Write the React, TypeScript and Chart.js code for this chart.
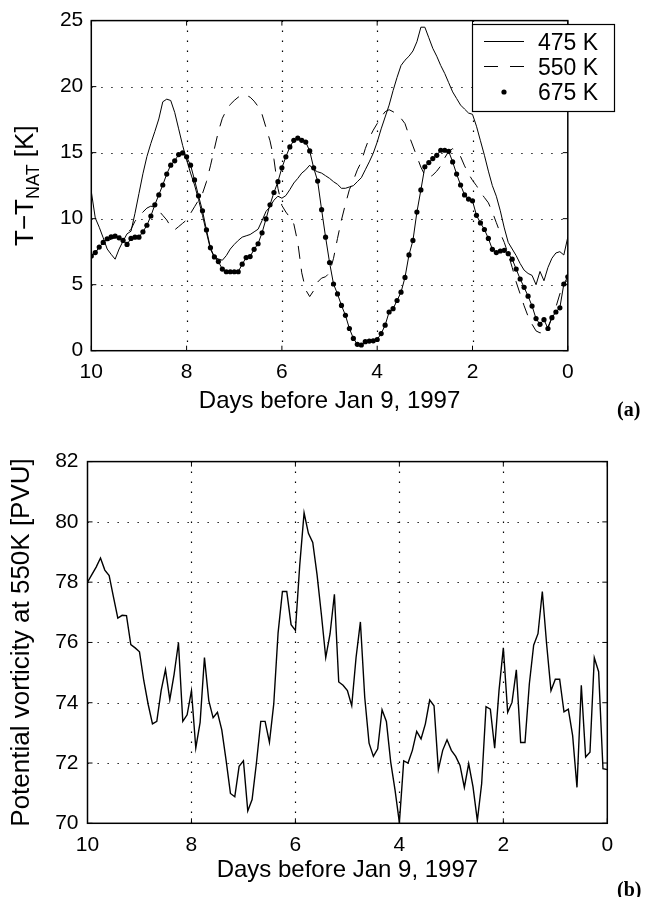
import React, { useEffect, useRef } from 'react';
import { Chart, registerables } from 'chart.js';

Chart.register(...registerables);

const FONT = '"Liberation Sans", Arial, Helvetica, sans-serif';
const SERIF = '"Liberation Serif", "Times New Roman", Times, serif';

// ---------- data ----------
const seriesNames = ['475 K', '550 K', '675 K'];
const xTitle = 'Days before Jan 9, 1997';
const topYTitleMain = 'T\u2212T';
const topYTitleSub = 'NAT';
const topYTitleTail = ' [K]';
const botYTitle = 'Potential vorticity at 550K [PVU]';
const panelLabels = ['(a)', '(b)'];

// samples every 2 hours, from 10 days before to 0 days before
const samplesPerDay = 12;

const t475 = [
  12.05, 10.05, 9.35, 8.55, 7.7, 7.3, 6.93, 7.7, 8.3, 8.85,
  9.05, 10.4, 11.9, 13.4, 14.7, 15.7, 16.6, 17.55, 18.85, 19.05,
  18.95, 18.05, 16.8, 15.55, 14.45, 13.45, 12.55, 11.45, 10.25, 8.95,
  7.7, 7.05, 6.95, 6.85, 7.2, 7.7, 8.05, 8.35, 8.6, 8.7,
  8.8, 9.0, 9.2, 9.85, 10.55, 10.9, 11.4, 11.7, 11.55, 11.75,
  12.2, 12.7, 13.05, 13.45, 13.7, 14.05, 13.7, 13.55, 13.45, 13.25,
  13.05, 12.8, 12.6, 12.3, 12.3, 12.4, 12.5, 12.8, 13.1, 13.7,
  14.3, 14.95, 15.8, 16.8, 17.7, 18.6, 19.7, 20.7, 21.6, 22.0,
  22.3, 22.7, 23.4, 24.5, 24.5, 23.7, 22.9, 22.3, 21.6, 21.0,
  20.3, 19.6, 19.1, 18.6, 18.3, 18.0, 17.9, 17.0, 15.9, 14.8,
  13.6, 12.5, 11.7, 10.6, 9.3, 8.2, 7.7, 7.2, 6.6, 6.1,
  5.85, 5.7, 5.0, 6.0, 5.3, 6.3, 7.0, 7.4, 7.5, 7.25,
  8.6,
];

const t550 = [
  7.2, 7.45, 7.8, 8.1, 8.3, 8.45, 8.55, 8.65, 8.75, 8.9,
  9.2, 9.8, 10.2, 10.5, 10.8, 10.95, 10.85, 10.6, 10.25, 9.9,
  9.4, 9.15, 9.4, 9.65, 9.9, 10.4, 10.9, 11.4, 11.9, 12.8,
  14.0, 15.3, 16.6, 17.6, 18.2, 18.65, 18.95, 19.2, 19.35, 19.35,
  19.2, 18.9, 18.5, 17.9, 16.9, 15.9, 14.5, 12.3, 11.0, 10.5,
  10.1, 9.6, 8.2, 5.9, 4.6, 4.1, 4.55, 5.2, 5.5, 5.6,
  5.9, 7.0, 8.5, 9.9, 11.1, 12.2, 12.9, 13.7, 14.3, 15.3,
  16.1, 16.7, 17.2, 17.7, 18.1, 18.25, 18.1, 17.9, 17.6, 17.2,
  16.3, 15.5, 14.7, 13.9, 13.3, 13.1, 13.3, 13.6, 14.0, 14.6,
  15.1, 15.3, 15.1, 14.7, 14.0, 13.4, 12.9, 12.5, 12.0, 11.6,
  11.2, 10.5, 9.7, 8.9, 8.2, 7.3, 6.3, 5.2, 4.3, 3.4,
  2.6, 2.0, 1.5, 1.35, 1.4, 1.8, 2.5, 3.3, 4.3, 5.0,
  5.4,
];

const t675 = [
  7.18, 7.43, 7.85, 8.2, 8.48, 8.63, 8.68, 8.55, 8.35, 8.05,
  8.5, 8.6, 8.6, 9.0, 9.5, 10.2, 11.05, 11.8, 12.55, 13.38,
  14.05, 14.38, 14.85, 14.98, 14.68, 14.05, 12.93, 11.73, 10.6, 9.15,
  7.8, 7.1, 6.75, 6.18, 5.98, 5.98, 5.98, 5.98, 6.55, 7.05,
  7.13, 7.68, 8.1, 8.93, 9.98, 11.05, 11.98, 12.8, 13.85, 14.68,
  15.43, 15.93, 16.1, 15.93, 15.8, 15.13, 13.85, 12.85, 10.68, 8.6,
  6.68, 5.05, 4.3, 3.43, 2.68, 1.68, 0.93, 0.48, 0.43, 0.68,
  0.73, 0.75, 0.85, 1.3, 1.93, 2.93, 3.18, 3.8, 4.43, 5.55,
  7.25, 8.35, 10.5, 12.18, 13.93, 14.25, 14.55, 14.8, 15.18, 15.18,
  15.1, 14.3, 13.38, 12.55, 11.8, 11.48, 11.35, 10.25, 9.68, 9.18,
  8.5, 7.68, 7.43, 7.55, 7.6, 7.35, 6.93, 6.18, 5.43, 4.8,
  4.13, 3.38, 2.43, 2.0, 2.35, 1.68, 2.5, 2.93, 3.25, 5.05,
  5.6,
];

const pv550 = [
  78.0, 78.25, 78.5, 78.8, 78.4, 78.22, 77.5, 76.81, 76.9, 76.89,
  75.93, 75.82, 75.69, 74.73, 73.95, 73.3, 73.38, 74.4, 75.1, 74.1,
  74.95, 75.99, 73.38, 73.6, 74.4, 72.5, 73.35, 75.5, 74.07, 73.5,
  73.68, 73.1, 72.09, 70.99, 70.88, 71.89, 72.07, 70.41, 70.79, 72.0,
  73.38, 73.38, 72.69, 73.96, 76.32, 77.69, 77.69, 76.59, 76.4, 78.57,
  80.3, 79.62, 79.32, 78.24, 76.92, 75.5, 76.29, 77.6, 74.69, 74.58,
  74.4, 73.9, 75.5, 76.68, 74.18, 72.66, 72.22, 72.47, 73.77, 73.38,
  72.03, 71.1, 70.02, 72.07, 72.0, 72.42, 73.05, 72.8, 73.3, 74.09,
  73.9, 71.78, 72.42, 72.77, 72.42, 72.22, 71.92, 71.19, 71.98, 71.21,
  70.09, 71.32, 73.87, 73.79, 72.49, 74.4, 75.82, 73.68, 74.01, 75.09,
  72.68, 72.68, 74.62, 75.91, 76.29, 77.69, 75.93, 74.4, 74.78, 74.78,
  73.7, 73.79, 72.91, 71.19, 74.58, 72.2, 72.36, 75.49, 75.03, 71.81,
  71.78,
];

const days = t475.map((_, i) => 10 - i / samplesPerDay);
const toPts = (arr: number[]) => arr.map((v, i) => ({ x: days[i], y: v }));

// ---------- plugins ----------
const matlabAxes = {
  id: 'matlabAxes',
  beforeDatasetsDraw(chart: any) {
    const { ctx, chartArea: a, scales } = chart;
    const x = scales.x;
    const y = scales.y;
    ctx.save();
    ctx.strokeStyle = '#000';
    ctx.lineWidth = 1.2;
    ctx.setLineDash([1.3, 8.7]);
    x.ticks.forEach((t: any) => {
      if (t.value === x.min || t.value === x.max) return;
      const px = Math.round(x.getPixelForValue(t.value)) + 0.5;
      ctx.beginPath();
      ctx.moveTo(px, a.top);
      ctx.lineTo(px, a.bottom);
      ctx.stroke();
    });
    y.ticks.forEach((t: any) => {
      if (t.value === y.min || t.value === y.max) return;
      const py = Math.round(y.getPixelForValue(t.value)) + 0.5;
      ctx.beginPath();
      ctx.moveTo(a.left, py);
      ctx.lineTo(a.right, py);
      ctx.stroke();
    });
    ctx.restore();
  },
  afterDatasetsDraw(chart: any) {
    const { ctx, chartArea: a, scales } = chart;
    const x = scales.x;
    const y = scales.y;
    const tl = 5;
    ctx.save();
    ctx.strokeStyle = '#000';
    ctx.lineWidth = 1.5;
    ctx.setLineDash([]);
    ctx.strokeRect(a.left, a.top, a.right - a.left, a.bottom - a.top);
    ctx.lineWidth = 1;
    x.ticks.forEach((t: any) => {
      const px = x.getPixelForValue(t.value);
      ctx.beginPath();
      ctx.moveTo(px, a.bottom);
      ctx.lineTo(px, a.bottom - tl);
      ctx.moveTo(px, a.top);
      ctx.lineTo(px, a.top + tl);
      ctx.stroke();
    });
    y.ticks.forEach((t: any) => {
      const py = y.getPixelForValue(t.value);
      ctx.beginPath();
      ctx.moveTo(a.left, py);
      ctx.lineTo(a.left + tl, py);
      ctx.moveTo(a.right, py);
      ctx.lineTo(a.right - tl, py);
      ctx.stroke();
    });
    ctx.restore();
  },
};

const topDecor = {
  id: 'topDecor',
  afterDraw(chart: any) {
    const { ctx, chartArea: a } = chart;
    ctx.save();
    // rotated y-axis title with subscript
    const cx = 24;
    const cy = (a.top + a.bottom) / 2;
    const mainFont = `26px ${FONT}`;
    const subFont = `18px ${FONT}`;
    ctx.font = mainFont;
    const w1 = ctx.measureText(topYTitleMain).width;
    const w3 = ctx.measureText(topYTitleTail).width;
    ctx.font = subFont;
    const w2 = ctx.measureText(topYTitleSub).width;
    const total = w1 + w2 + w3;
    ctx.translate(cx, cy);
    ctx.rotate(-Math.PI / 2);
    ctx.fillStyle = '#000';
    ctx.textBaseline = 'alphabetic';
    ctx.textAlign = 'left';
    let px = -total / 2;
    const base = 9.3;
    ctx.font = mainFont;
    ctx.fillText(topYTitleMain, px, base);
    px += w1;
    ctx.font = subFont;
    ctx.fillText(topYTitleSub, px, base + 5.5);
    px += w2;
    ctx.font = mainFont;
    ctx.fillText(topYTitleTail, px, base);
    ctx.restore();

    // legend box
    ctx.save();
    const bx = 472, by = 24, bw = 142, bh = 87;
    ctx.fillStyle = '#fff';
    ctx.fillRect(bx, by, bw, bh);
    ctx.strokeStyle = '#000';
    ctx.lineWidth = 1.2;
    ctx.strokeRect(bx + 0.5, by + 0.5, bw, bh);
    const rows = [41.5, 66.5, 92];
    ctx.lineWidth = 1;
    ctx.beginPath();
    ctx.moveTo(484, rows[0]);
    ctx.lineTo(524, rows[0]);
    ctx.stroke();
    ctx.setLineDash([14, 12]);
    ctx.beginPath();
    ctx.moveTo(484, rows[1]);
    ctx.lineTo(524, rows[1]);
    ctx.stroke();
    ctx.setLineDash([]);
    ctx.fillStyle = '#000';
    ctx.beginPath();
    ctx.arc(504, rows[2], 2.6, 0, Math.PI * 2);
    ctx.fill();
    ctx.font = `23px ${FONT}`;
    ctx.textBaseline = 'alphabetic';
    ctx.textAlign = 'left';
    seriesNames.forEach((n, i) => ctx.fillText(n, 538, rows[i] + 8.2));
    ctx.restore();
  },
};

function xScale(height: number, tickPad: number, titlePadBottom: number) {
  return {
    type: 'linear',
    reverse: true,
    min: 0,
    max: 10,
    afterFit: (s: any) => {
      s.height = height;
    },
    ticks: {
      stepSize: 2,
      color: '#000',
      font: { family: FONT, size: 21 },
      padding: tickPad,
      maxRotation: 0,
      autoSkip: false,
      callback: (v: any) => String(v),
    },
    grid: { display: false, drawTicks: false },
    border: { display: false },
    title: {
      display: true,
      text: xTitle,
      color: '#000',
      font: { family: FONT, size: 24 },
      padding: { top: 0, bottom: titlePadBottom },
    },
  };
}

export default function App() {
  const topRef = useRef<HTMLCanvasElement>(null);
  const botRef = useRef<HTMLCanvasElement>(null);

  useEffect(() => {
    const top = new Chart(topRef.current as HTMLCanvasElement, {
      type: 'line',
      data: {
        datasets: [
          {
            label: seriesNames[0],
            data: toPts(t475),
            borderColor: '#000',
            borderWidth: 1,
            pointRadius: 0,
            tension: 0,
          },
          {
            label: seriesNames[1],
            data: toPts(t550),
            borderColor: '#000',
            borderWidth: 1,
            borderDash: [13, 10],
            pointRadius: 0,
            tension: 0,
          },
          {
            label: seriesNames[2],
            data: toPts(t675),
            borderColor: '#000',
            borderWidth: 1,
            pointRadius: 2.6,
            pointBackgroundColor: '#000',
            pointBorderWidth: 0,
            tension: 0,
          },
        ],
      },
      options: {
        animation: false,
        responsive: false,
        devicePixelRatio: 1,
        layout: { padding: { left: 0, right: 78.2, top: 17.3, bottom: 0 } },
        plugins: { legend: { display: false }, tooltip: { enabled: false } },
        scales: {
          x: xScale(89.3, 9.2, 24.6) as any,
          y: {
            type: 'linear',
            min: 0,
            max: 25,
            afterFit: (s: any) => {
              s.width = 91.3;
            },
            ticks: {
              stepSize: 5,
              color: '#000',
              font: { family: FONT, size: 21 },
              padding: 8,
            },
            grid: { display: false, drawTicks: false },
            border: { display: false },
          },
        },
      },
      plugins: [matlabAxes, topDecor],
    });

    const bot = new Chart(botRef.current as HTMLCanvasElement, {
      type: 'line',
      data: {
        datasets: [
          {
            label: botYTitle,
            data: toPts(pv550),
            borderColor: '#000',
            borderWidth: 1.4,
            pointRadius: 0,
            tension: 0,
          },
        ],
      },
      options: {
        animation: false,
        responsive: false,
        devicePixelRatio: 1,
        layout: { padding: { left: 0, right: 38.7, top: 19.3, bottom: 0 } },
        plugins: { legend: { display: false }, tooltip: { enabled: false } },
        scales: {
          x: xScale(73.7, 9.6, 12.1) as any,
          y: {
            type: 'linear',
            min: 70,
            max: 82,
            afterFit: (s: any) => {
              s.width = 87.5;
            },
            ticks: {
              stepSize: 2,
              color: '#000',
              font: { family: FONT, size: 21 },
              padding: 9,
            },
            grid: { display: false, drawTicks: false },
            border: { display: false },
            title: {
              display: true,
              text: botYTitle,
              color: '#000',
              font: { family: FONT, size: 26 },
              padding: { top: 6, bottom: 0 },
            },
          },
        },
      },
      plugins: [matlabAxes],
    });

    return () => {
      top.destroy();
      bot.destroy();
    };
  }, []);

  const labelStyle: React.CSSProperties = {
    position: 'absolute',
    left: 617,
    fontFamily: SERIF,
    fontWeight: 'bold',
    fontSize: 20,
    lineHeight: '22px',
    color: '#000',
    whiteSpace: 'nowrap',
  };

  return (
    <div style={{ position: 'absolute', left: 0, top: 0, width: 646, height: 897, background: '#fff', overflow: 'hidden' }}>
      <canvas ref={topRef} width={646} height={440} style={{ position: 'absolute', left: 0, top: 0, width: 646, height: 440 }} />
      <canvas ref={botRef} width={646} height={457} style={{ position: 'absolute', left: 0, top: 440, width: 646, height: 457 }} />
      <span style={{ ...labelStyle, top: 398 }}>{panelLabels[0]}</span>
      <span style={{ ...labelStyle, top: 878 }}>{panelLabels[1]}</span>
    </div>
  );
}
